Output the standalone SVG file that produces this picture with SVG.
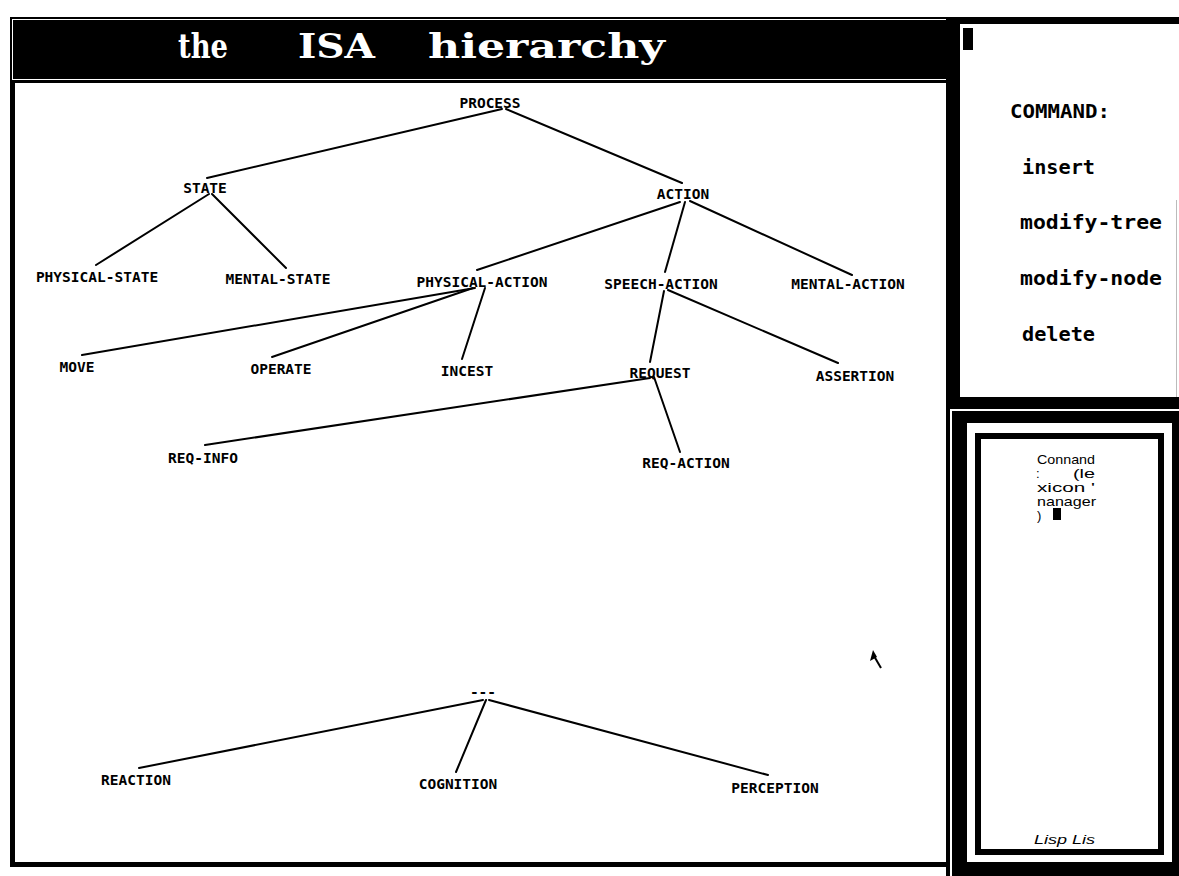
<svg xmlns="http://www.w3.org/2000/svg" width="1179" height="876" viewBox="0 0 1179 876">
  <style>
    .lbl { font-family: "DejaVu Sans Mono", "Liberation Mono", monospace; font-weight: bold; font-size: 14.5px; fill: #000; text-anchor: middle; }
    .edge { stroke: #000; stroke-width: 2; stroke-linecap: round; fill: none; }
    .title { font-family: "DejaVu Serif", "Liberation Serif", serif; font-weight: bold; font-size: 34px; fill: #fff; }
    .cmd { font-family: "DejaVu Sans Mono", "Liberation Mono", monospace; font-weight: bold; font-size: 20px; fill: #000; }
    .lisp { font-family: "Liberation Sans", Arial, sans-serif; font-size: 13px; fill: #000; }
  </style>

  <!-- page background -->
  <rect x="0" y="0" width="1179" height="876" fill="#fff"/>

  <!-- main tree window -->
  <g id="main-window">
    <rect x="10" y="17" width="5" height="850" fill="#000"/>
    <rect x="10" y="862" width="940" height="5" fill="#000"/>
    <rect x="10" y="17" width="942" height="66" fill="#000"/>
    <rect x="12.5" y="19.5" width="937" height="60" fill="none" stroke="#fff" stroke-width="1"/>
    <text class="title" x="178" y="58" textLength="50" lengthAdjust="spacingAndGlyphs">the</text>
    <text class="title" x="298" y="58" textLength="77" lengthAdjust="spacingAndGlyphs">ISA</text>
    <text class="title" x="428" y="58" textLength="237" lengthAdjust="spacingAndGlyphs">hierarchy</text>
  </g>

  <!-- right-hand windows -->
  <g id="side-windows">
    <rect x="946" y="17" width="233" height="859" fill="#000"/>
    <!-- command menu -->
    <rect x="960" y="24" width="219" height="373" fill="#fff"/>
    <line x1="1176.5" y1="200" x2="1176.5" y2="397" stroke="#bbb" stroke-width="1"/>
    <rect x="963" y="28" width="10" height="22" fill="#000"/>
    <text class="cmd" x="1010" y="118" textLength="100" lengthAdjust="spacingAndGlyphs">COMMAND:</text>
    <text class="cmd" x="1022" y="174" textLength="73" lengthAdjust="spacingAndGlyphs">insert</text>
    <text class="cmd" x="1020" y="229" textLength="142" lengthAdjust="spacingAndGlyphs">modify-tree</text>
    <text class="cmd" x="1020" y="285" textLength="142" lengthAdjust="spacingAndGlyphs">modify-node</text>
    <text class="cmd" x="1022" y="341" textLength="73" lengthAdjust="spacingAndGlyphs">delete</text>
    <!-- lisp listener -->
    <rect x="952" y="409" width="227" height="2" fill="#fff"/>
    <rect x="950" y="409" width="2" height="467" fill="#fff"/>
    <rect x="967" y="423" width="205" height="439" fill="#fff"/>
    <rect x="978" y="436" width="183" height="416" fill="#fff" stroke="#000" stroke-width="6"/>
    <text class="lisp" x="1037" y="464" textLength="58" lengthAdjust="spacingAndGlyphs">Connand</text>
    <text class="lisp" x="1036" y="478">:</text>
    <text class="lisp" x="1073" y="478" textLength="22" lengthAdjust="spacingAndGlyphs">(le</text>
    <text class="lisp" x="1037" y="492" textLength="58" lengthAdjust="spacingAndGlyphs">xicon '</text>
    <text class="lisp" x="1037" y="506" textLength="59" lengthAdjust="spacingAndGlyphs">nanager</text>
    <text class="lisp" x="1037" y="520">)</text>
    <rect x="1053" y="508" width="8" height="12" fill="#000"/>
    <text class="lisp" x="1034" y="844" font-style="italic" font-size="16" textLength="61" lengthAdjust="spacingAndGlyphs">Lisp Lis</text>
  </g>

  <!-- tree edges -->
  <g id="connectors">
    <line class="edge" x1="502" y1="109" x2="207" y2="178"/>
    <line class="edge" x1="506" y1="109" x2="682" y2="183"/>
    <line class="edge" x1="209" y1="194" x2="96" y2="265"/>
    <line class="edge" x1="212" y1="194" x2="286" y2="268"/>
    <line class="edge" x1="680" y1="202" x2="477" y2="270"/>
    <line class="edge" x1="685" y1="202" x2="665" y2="272"/>
    <line class="edge" x1="690" y1="201" x2="852" y2="275"/>
    <line class="edge" x1="475" y1="288" x2="82" y2="355"/>
    <line class="edge" x1="473" y1="288" x2="272" y2="357"/>
    <line class="edge" x1="485" y1="288" x2="462" y2="359"/>
    <line class="edge" x1="664" y1="291" x2="650" y2="362"/>
    <line class="edge" x1="668" y1="290" x2="838" y2="363"/>
    <line class="edge" x1="650" y1="378" x2="205" y2="445"/>
    <line class="edge" x1="654" y1="377" x2="680" y2="452"/>
    <line class="edge" x1="483" y1="700" x2="139" y2="768"/>
    <line class="edge" x1="486" y1="700" x2="456" y2="772"/>
    <line class="edge" x1="489" y1="700" x2="768" y2="775"/>
  </g>

  <!-- tree nodes -->
  <g id="n-process"><text class="lbl" x="490" y="108">PROCESS</text></g>
  <g id="n-state"><text class="lbl" x="205" y="193">STATE</text></g>
  <g id="n-action"><text class="lbl" x="683" y="199">ACTION</text></g>
  <g id="n-physical-state"><text class="lbl" x="97" y="282">PHYSICAL-STATE</text></g>
  <g id="n-mental-state"><text class="lbl" x="278" y="284">MENTAL-STATE</text></g>
  <g id="n-physical-action"><text class="lbl" x="482" y="287">PHYSICAL-ACTION</text></g>
  <g id="n-speech-action"><text class="lbl" x="661" y="289">SPEECH-ACTION</text></g>
  <g id="n-mental-action"><text class="lbl" x="848" y="289">MENTAL-ACTION</text></g>
  <g id="n-move"><text class="lbl" x="77" y="372">MOVE</text></g>
  <g id="n-operate"><text class="lbl" x="281" y="374">OPERATE</text></g>
  <g id="n-incest"><text class="lbl" x="467" y="376">INCEST</text></g>
  <g id="n-request"><text class="lbl" x="660" y="378">REQUEST</text></g>
  <g id="n-assertion"><text class="lbl" x="855" y="381">ASSERTION</text></g>
  <g id="n-req-info"><text class="lbl" x="203" y="463">REQ-INFO</text></g>
  <g id="n-req-action"><text class="lbl" x="686" y="468">REQ-ACTION</text></g>
  <g id="n-unnamed"><text class="lbl" x="483" y="697">---</text></g>
  <g id="n-reaction"><text class="lbl" x="136" y="785">REACTION</text></g>
  <g id="n-cognition"><text class="lbl" x="458" y="789">COGNITION</text></g>
  <g id="n-perception"><text class="lbl" x="775" y="793">PERCEPTION</text></g>

  <!-- mouse pointer -->
  <g id="pointer">
    <path d="M873,650 L870,661 L877,657 Z" fill="#000"/>
    <line x1="874" y1="656" x2="881" y2="668" stroke="#000" stroke-width="2"/>
  </g>
</svg>
